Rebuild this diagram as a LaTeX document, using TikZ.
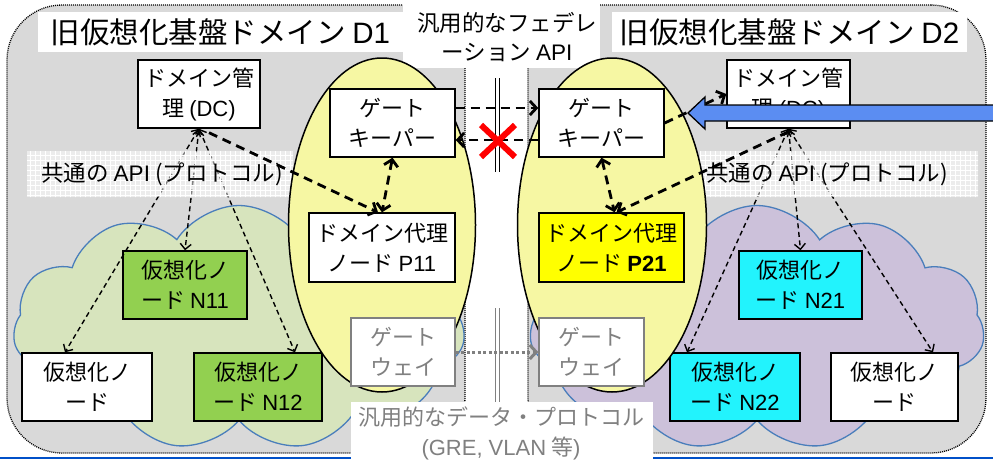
\documentclass[tikz,border=0pt]{standalone}
\usepackage{fontspec}
\setmainfont{Noto Sans CJK JP}
\newfontfamily\lat{Liberation Sans}
\usetikzlibrary{shapes.symbols,shapes.geometric,arrows.meta,calc}
\definecolor{dgray}{HTML}{D9D9D9}
\definecolor{ellyellow}{HTML}{F6F7A3}
\definecolor{ngreen}{HTML}{92D050}
\definecolor{ncyan}{HTML}{22F3FD}
\definecolor{pyellow}{HTML}{FFFF00}
\definecolor{cloudgreen}{HTML}{D7E4BD}
\definecolor{cloudpurple}{HTML}{CCC1DA}
\definecolor{cloudline}{HTML}{4A7EBB}
\definecolor{arrowblue}{HTML}{5B8DF2}
\definecolor{lineblue}{HTML}{0050C8}
\definecolor{txtgray}{HTML}{808080}
\tikzset{
  domainbox/.style={fill=dgray, draw=black, line width=1.3pt, dash pattern=on 1pt off 1pt,
    rounded corners=55pt, inner sep=0pt},
  cloudbg/.style={cloud, cloud puffs=11, cloud puff arc=115, draw=cloudline, line width=1.3pt,
    inner sep=0pt, aspect=1.85},
  titlebox/.style={fill=white, inner sep=0pt, font=\fontsize{29.5}{30}\selectfont},
  whitelabel/.style={fill=white, inner sep=0pt},
  labeltext/.style={inner sep=0pt, align=center, font=\fontsize{22.5}{29}\selectfont},
  apibg/.style={fill=white, fill opacity=0.5, inner sep=0pt, minimum height=46pt},
  apitext/.style={inner sep=0pt, anchor=west, font=\fontsize{22.5}{24}\selectfont},
  oval/.style={ellipse, draw=black, fill=ellyellow, line width=1.5pt, inner sep=0pt},
  nbox/.style={draw=black, line width=1.4pt, fill=white, align=center, inner sep=0pt,
    minimum height=68pt, font=\fontsize{22}{30}\selectfont},
  gwbox/.style={nbox, draw=txtgray, text=txtgray},
  smallbarb/.tip={Straight Barb[length=5.5pt,width=11pt]},
  bigbarb/.tip={Straight Barb[length=6.5pt,width=14pt]},
  thinlink/.style={line width=1.4pt, dash pattern=on 5pt off 3.5pt, smallbarb-smallbarb},
  thicklink/.style={line width=2.8pt, dash pattern=on 9pt off 6pt},
}
\begin{document}
\begin{tikzpicture}[x=1pt, y=-1pt]
\useasboundingbox (0,0) rectangle (993,461);
% domains
\node[domainbox, minimum width=458pt, minimum height=448pt] (D1) at (236,229) {};
\node[domainbox, minimum width=458pt, minimum height=448pt] (D2) at (757,229) {};
% blue bottom line
\coordinate (BL) at (0,458);
\coordinate (BR) at (993,458);
\draw[lineblue, line width=2.5pt] (BL) -- (BR);
% clouds
\node[cloudbg, fill=cloudgreen, minimum width=452pt, minimum height=245pt] (C1) at (239,328) {};
\node[cloudbg, fill=cloudpurple, minimum width=455pt, minimum height=245pt] (C2) at (757,328) {};
% titles
\node[titlebox, minimum width=365pt, minimum height=40pt] (T1) at (220.5,32) {旧仮想化基盤ドメイン {\lat D1}};
\node[titlebox, minimum width=355pt, minimum height=40pt] (T2) at (789.5,32) {旧仮想化基盤ドメイン {\lat D2}};
% top centre label
\node[whitelabel, minimum width=197pt, minimum height=68pt] (FL) at (501.5,34) {};
\node[labeltext] (FLT) at (507,37) {汎用的なフェデレ\\ーション {\lat API}};
% nodes
\node[nbox, minimum width=122pt] (DC1) at (199,94) {ドメイン管\\理 {\lat (DC)}};
\node[nbox, minimum width=123pt] (DC2) at (788.5,94) {ドメイン管\\理 {\lat (DC)}};
\node[nbox, fill=ngreen, minimum width=124pt] (N11) at (185,285) {仮想化ノ\\ード {\lat N11}};
\node[nbox, minimum width=130pt] (V1) at (87,387) {仮想化ノ\\ード};
\node[nbox, fill=ngreen, minimum width=128pt] (N12) at (258,387) {仮想化ノ\\ード {\lat N12}};
\node[nbox, fill=ncyan, minimum width=123pt] (N21) at (800.5,285) {仮想化ノ\\ード {\lat N21}};
\node[nbox, fill=ncyan, minimum width=130pt] (N22) at (735,387) {仮想化ノ\\ード {\lat N22}};
\node[nbox, minimum width=127pt] (V2) at (894.5,387) {仮想化ノ\\ード};
% thin links (under the API labels)
\draw[thinlink] (DC1.south) -- ([xshift=-22pt]V1.north);
\draw[thinlink] (DC1.south) -- (N11.north);
\draw[thinlink] (DC1.south) -- ([xshift=37pt]N12.north);
\draw[thinlink] (DC2.south) -- ([xshift=-48pt]N22.north);
\draw[thinlink] (DC2.south) -- (N21.north);
\draw[thinlink] (DC2.south) -- ([xshift=38.5pt]V2.north);
% API labels
\node[apibg, minimum width=266pt] (A1) at (160,174) {};
\node[apibg, minimum width=278pt] (A2) at (839,174) {};
\begin{scope}
\clip (27,151) rectangle (293,197) (700,151) rectangle (978,197);
\draw[white, line width=0.5pt] (25,150) grid[step=5pt] (980,198);
\end{scope}
\node[apitext] (A1T) at (41,174) {共通の {\lat API} (プロトコル)};
\node[apitext] (A2T) at (706,174) {共通の {\lat API} (プロトコル)};
% ovals
\node[oval, minimum width=187pt, minimum height=334pt] (E1) at (382,225) {};
\node[oval, minimum width=189pt, minimum height=334pt] (E2) at (612,225) {};
% proxy / gatekeeper / gateway nodes
\node[nbox, minimum width=125pt] (GK1) at (392.5,123) {ゲート\\キーパー};
\node[nbox, minimum width=125pt] (GK2) at (601.5,123) {ゲート\\キーパー};
\node[nbox, minimum width=146pt, minimum height=69pt] (P11) at (382,247.5) {ドメイン代理\\ノード {\lat P11}};
\node[nbox, fill=pyellow, minimum width=145pt, minimum height=69pt] (P21) at (611.5,247.5) {ドメイン代理\\ノード {\lat\bfseries P21}};
\node[gwbox, minimum width=104pt] (GW1) at (403,352) {ゲート\\ウェイ};
\node[gwbox, minimum width=105pt] (GW2) at (591.5,352) {ゲート\\ウェイ};
% thick links
\draw[thicklink, -bigbarb] ([xshift=10pt,yshift=-4pt]DC1.south) -- ([xshift=-4pt]P11.north);
\draw[thicklink, bigbarb-bigbarb] (GK1.south) -- (P11.north);
\draw[thicklink, bigbarb-bigbarb] (GK2.south) -- ([xshift=3pt]P21.north);
\draw[thicklink, -bigbarb] ([yshift=-3pt]DC2.south) -- ([xshift=5pt]P21.north);
\draw[thicklink, -bigbarb] (GK2.east) -- (DC2.west);
% federation separator
\coordinate (S1t) at (497.5,78);
\coordinate (S1b) at (497.5,172);
\draw[black, line width=1.1pt, double distance=2.6pt] (S1t) -- (S1b);
\coordinate (S2t) at (497.5,308);
\coordinate (S2b) at (497.5,410);
\draw[txtgray, line width=1.1pt, double distance=2.6pt] (S2t) -- (S2b);
\draw[thicklink, -bigbarb] ([yshift=15pt]GK1.east) -- ([yshift=15pt]GK2.west);
\draw[thicklink, -bigbarb] ([yshift=-17pt]GK2.west) -- ([yshift=-17pt]GK1.east);
\coordinate (X) at (498,141);
\draw[red, line width=6pt] ($(X)+(-17,-16)$) -- ($(X)+(17,16)$)
                           ($(X)+(-17,16)$) -- ($(X)+(17,-16)$);
\draw[txtgray, line width=3pt, dash pattern=on 3pt off 2.5pt, -bigbarb] (GW1.east) -- (GW2.west);
% bottom label
\node[whitelabel, minimum width=302pt, minimum height=59pt] (BLB) at (502,431.5) {};
\node[labeltext, text=txtgray, font=\fontsize{22}{30}\selectfont] (BLT) at (501,433) {汎用的なデータ・プロトコル\\{\lat (GRE, VLAN} 等{\lat )}};
% big blue arrow
\coordinate (BAtip) at (688,113);
\draw[fill=arrowblue, line width=1.3pt] (996,105) -- (705,105) -- (705,97) -- (BAtip) -- (705,129) -- (705,121) -- (996,121);
\end{tikzpicture}
\end{document}
